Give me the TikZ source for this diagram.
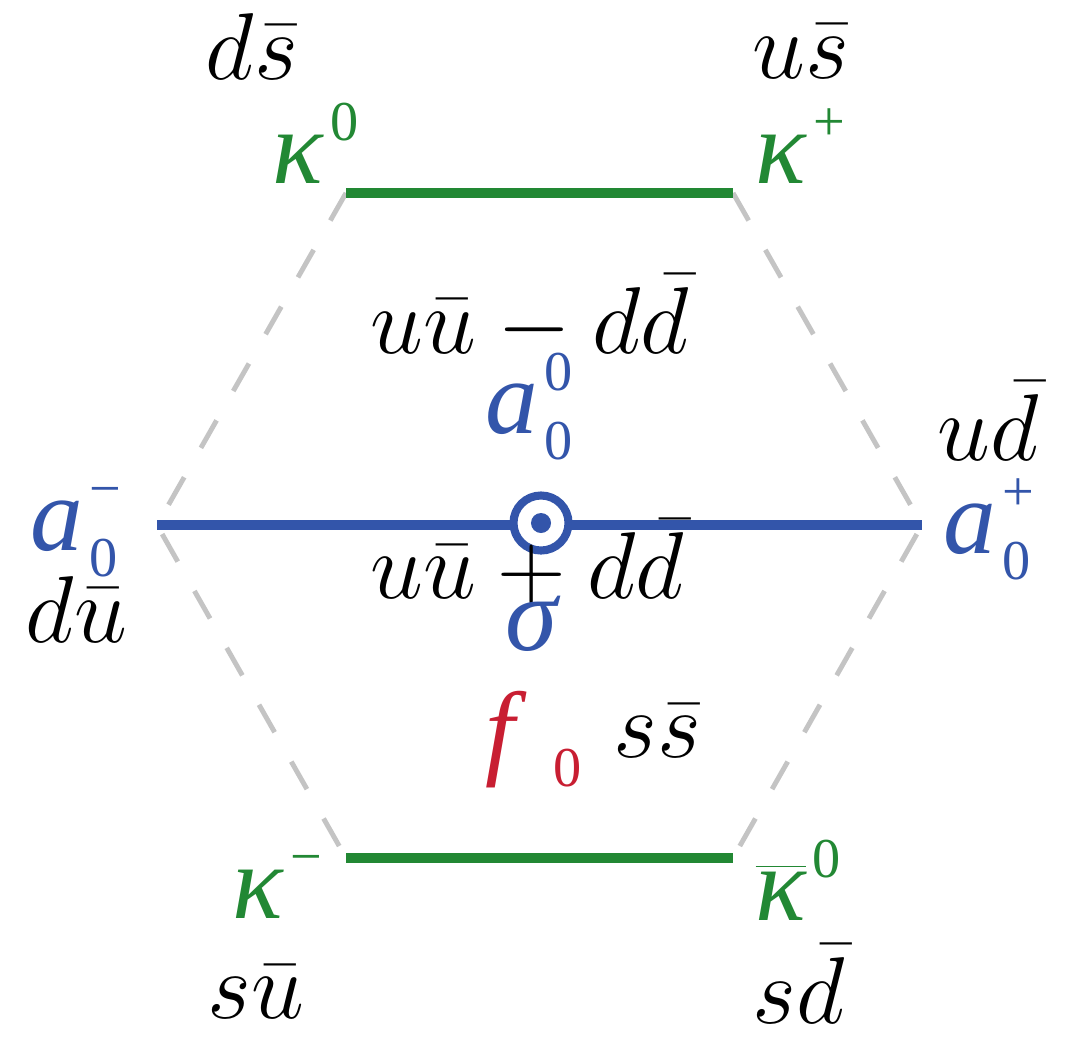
\RequirePackage{fix-cm}
\documentclass[tikz,border=0pt]{standalone}
\usepackage{fontspec}
\newfontfamily\hadronfont{Liberation Serif}
\usepackage{tikz}
\usetikzlibrary{positioning}

\definecolor{kgreen}{RGB}{34,136,52}
\definecolor{ablue}{RGB}{51,85,170}
\definecolor{fred}{RGB}{200,30,50}
\definecolor{hexgray}{RGB}{196,196,196}

\newcommand{\hsm}{\fontsize{16}{16}\selectfont\upshape}
% letter with stacked super- and subscript
\newcommand{\meson}[3]{\textit{#1}\kern.06em\makebox[.5em][l]{\rlap{\raisebox{.4em}{\hsm #2}}\raisebox{-.25em}{\hsm #3}}}

\begin{document}
\begin{tikzpicture}[
    x=0.01cm, y=-0.01cm,
    quark/.style={inner sep=0pt, anchor=base west, font=\fontsize{27}{32}\selectfont},
    hadron/.style={inner sep=0pt, anchor=base west, font=\hadronfont\fontsize{30}{36}\selectfont},
    kaon/.style={hadron, text=kgreen},
    pion/.style={hadron, text=ablue},
    fzero/.style={hadron, text=fred},
    side/.style={draw=hexgray, line width=1.4pt, dash pattern=on 9pt off 9.6pt},
    kline/.style={draw=kgreen, line width=2.9pt},
    aline/.style={draw=ablue, line width=2.9pt},
]
\useasboundingbox (0,0) rectangle (1072,1039);

% hexagon corners
\coordinate (TL) at (346,193);
\coordinate (TR) at (733,193);
\coordinate (R) at (922,525);
\coordinate (L) at (157,525);
\coordinate (BL) at (346,858);
\coordinate (BR) at (733,858);
\coordinate (C) at (541,523);

% sides
\draw[side] (TL) -- (L) -- (BL);
\draw[side] (TR) -- (R) -- (BR);
\draw[kline] (TL) -- (TR);
\draw[kline] (BL) -- (BR);
\draw[aline] (L) -- (R);

% centre
\node[circle, draw=ablue, fill=white, line width=2.3pt, minimum size=0.55cm, inner sep=0pt] (ring) at (C) {};
\node[circle, fill=ablue, minimum size=0.2cm, inner sep=0pt] (dot) at (C) {};

% quark content
\node[quark] (ds) at (205,79) {$d\bar{s}$};
\node[quark] (us) at (752,78) {$u\bar{s}$};
\node[quark] (uumdd) at (370,353) {$u\bar{u}-d\bar{d}$};
\node[quark] (ud) at (937,460) {$u\bar{d}$};
\node[quark] (du) at (25,642) {$d\bar{u}$};
\node[quark] (uupdd) at (370,598) {$u\bar{u}+d\bar{d}$};
\node[quark] (ss) at (613,757) {$s\bar{s}$};
\node[quark] (su) at (207,1018) {$s\bar{u}$};
\node[quark] (sd) at (752,1023) {$s\bar{d}$};

% mesons
\node[kaon] (k0) at (272,183) {\meson{κ}{0}{}};
\node[kaon] (kp) at (755,183) {\meson{κ}{+}{}};
\node[kaon] (km) at (232,918) {\meson{κ}{−}{}};
\node[kaon] (k0bar) at (755,920) {\meson{$\overline{\mbox{\itshape κ}}$}{0}{}};
\node[pion] (a00) at (485,433) {\meson{a}{0}{0}};
\node[pion] (a0p) at (943,553) {\meson{a}{+}{0}};
\node[pion] (a0m) at (30,550) {\meson{a}{−}{0}};
\node[pion] (sigma) at (505,650) {\textit{σ}};
\node[fzero] (f0) at (485,765) {\textit{f}\kern.25em\raisebox{-.2em}{\hsm 0}};

\end{tikzpicture}
\end{document}
